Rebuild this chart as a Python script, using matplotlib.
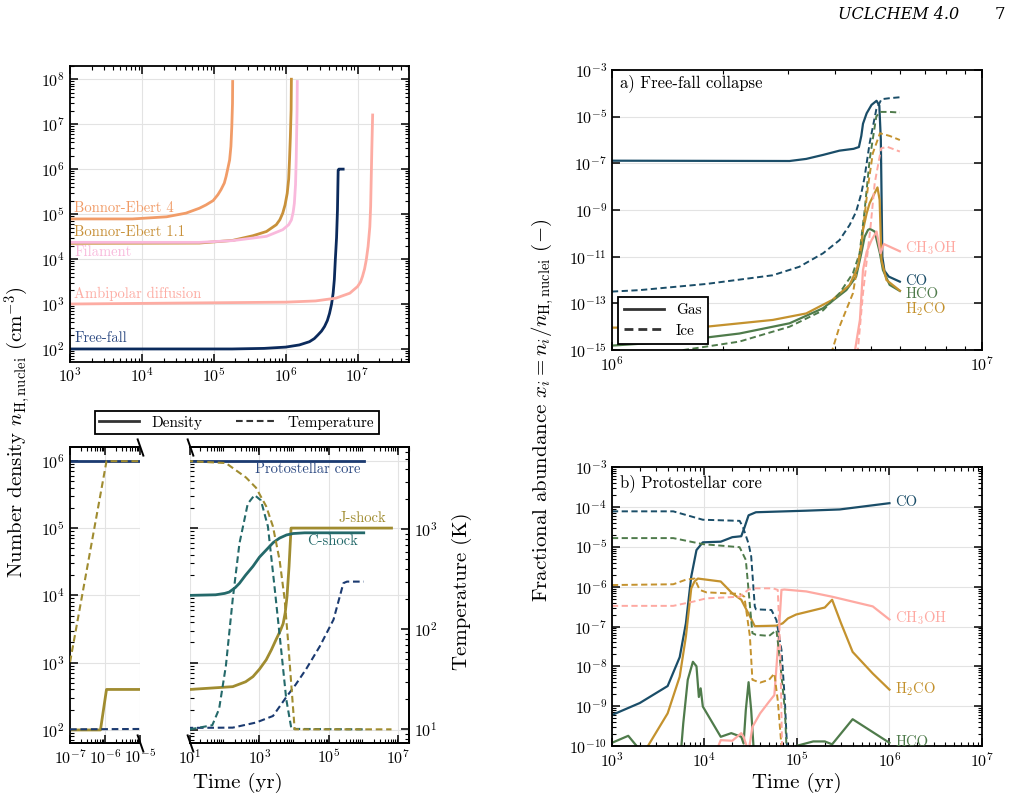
import matplotlib
matplotlib.use("Agg")
import matplotlib.pyplot as plt
from matplotlib.lines import Line2D
from matplotlib.ticker import LogLocator, NullFormatter, NullLocator

plt.rcParams['font.family'] = 'cmr10'
plt.rcParams['mathtext.fontset'] = 'cm'
plt.rcParams['axes.formatter.use_mathtext'] = True
plt.rcParams['axes.linewidth'] = 1.3
plt.rcParams['xtick.direction'] = 'in'
plt.rcParams['ytick.direction'] = 'in'
plt.rcParams['xtick.labelsize'] = 11.5
plt.rcParams['ytick.labelsize'] = 11.5

# ---- density profiles (top left)
ff_t = [1e3, 1.8e5, 5e5, 1.0e6, 1.55e6, 2.14e6, 2.5e6, 2.8e6, 3.15e6, 3.47e6, 3.8e6, 4.07e6, 4.35e6, 4.57e6, 4.75e6, 4.9e6, 5.1e6, 5.25e6, 5.37e6, 5.5e6, 6.3e6]
ff_n = [100, 100, 103, 110, 123, 145, 170, 204, 250, 316, 430, 617, 1000, 1740, 3500, 9550, 3e4, 1.23e5, 9.5e5, 1e6, 1e6]
ad_t = [1e3, 1e6, 2.6e6, 5.0e6, 7.8e6, 1.0e7, 1.1e7, 1.17e7, 1.25e7, 1.32e7, 1.4e7, 1.48e7, 1.52e7, 1.55e7, 1.58e7, 1.62e7]
ad_n = [1e3, 1.1e3, 1.17e3, 1.35e3, 1.74e3, 2.45e3, 3.1e3, 4.1e3, 6e3, 9.5e3, 1.9e4, 5.2e4, 1.5e5, 6.8e5, 3e6, 1.6e7]
be4_t = [1e3, 7.4e3, 2.2e4, 4.1e4, 6.3e4, 7.8e4, 9.8e4, 1.14e5, 1.26e5, 1.4e5, 1.48e5, 1.57e5, 1.66e5, 1.73e5, 1.78e5, 1.82e5, 1.83e5]
be4_n = [7.8e4, 7.8e4, 8.7e4, 1.05e5, 1.35e5, 1.6e5, 2.0e5, 2.7e5, 3.5e5, 4.9e5, 6.8e5, 1.05e6, 1.6e6, 3.2e6, 8.9e6, 2.9e7, 8.9e7]
be11_t = [1e3, 6.3e4, 1.83e5, 3.5e5, 5.4e5, 7.4e5, 8.3e5, 9.1e5, 9.8e5, 1.05e6, 1.1e6, 1.13e6, 1.16e6, 1.19e6, 1.2e6]
be11_n = [2.24e4, 2.27e4, 2.6e4, 3.3e4, 4.1e4, 5.8e4, 7.5e4, 1.05e5, 1.6e5, 2.9e5, 6e5, 1.6e6, 5e6, 2.1e7, 1e8]
fil_t = [1e3, 6.3e4, 1.83e5, 5.4e5, 9.1e5, 1.1e6, 1.2e6, 1.27e6, 1.32e6, 1.37e6, 1.4e6, 1.42e6, 1.44e6, 1.45e6]
fil_n = [2.35e4, 2.35e4, 2.57e4, 3.2e4, 4.5e4, 5.8e4, 7.4e4, 1.1e5, 1.74e5, 4.5e5, 1.6e6, 6e6, 2.1e7, 8.9e7]

# ---- physical models (bottom left)
core_t = [1e-7, 1e6]
core_n = [1e6, 1e6]
core_Tt = [1e-7, 170, 800, 2450, 5900, 1.1e4, 2.2e4, 5.5e4, 1.35e5, 2.6e5, 3.3e5, 1e6]
core_T = [10, 10.4, 11.7, 13.6, 21, 28, 40, 68, 125, 290, 300, 300]
j_t = [1e-7, 7.4e-7, 1.1e-6, 10, 170, 400, 650, 1000, 1560, 2200, 3000, 4000, 4800, 5500, 6200, 7100, 8100, 6.3e6]
j_n = [100, 100, 400, 400, 440, 520, 620, 800, 1100, 1550, 2200, 3000, 3800, 5500, 9600, 2.7e4, 1e5, 1e5]
j_Tt = [1e-7, 1.1e-6, 10, 108, 410, 800, 1560, 2440, 3800, 5300, 6600, 8300, 1.03e4, 6.3e6]
j_T = [47, 4800, 4800, 4600, 3300, 2600, 1700, 1070, 490, 200, 79, 27, 10, 10]
c_t = [10, 55, 100, 135, 200, 265, 400, 650, 1000, 1550, 2500, 3800, 6000, 9300, 2e4, 1e6]
c_n = [1e4, 1.02e4, 1.07e4, 1.12e4, 1.3e4, 1.51e4, 2e4, 2.7e4, 3.7e4, 4.7e4, 6.1e4, 7.1e4, 7.9e4, 8.3e4, 8.5e4, 8.5e4]
c_Tt = [10, 44, 69, 108, 170, 265, 460, 720, 1100, 1750, 2700, 4200, 5900, 8300, 1e6]
c_T = [10, 11, 16, 43, 200, 720, 1800, 2200, 1950, 1070, 270, 63, 20, 10.1, 10]

# ---- a) free-fall collapse abundances
a_co_t = [1e6, 3.02e6, 3.35e6, 3.72e6, 4.12e6, 4.5e6, 4.65e6, 4.72e6, 4.77e6, 4.88e6, 5.03e6, 5.19e6, 5.28e6, 5.33e6, 5.38e6, 5.45e6, 5.6e6, 6e6]
a_co = [1.3e-7, 1.26e-7, 1.55e-7, 2.3e-7, 3.5e-7, 4.2e-7, 5e-7, 1.5e-6, 5e-6, 1.4e-5, 3.2e-5, 4.8e-5, 3e-5, 1e-6, 1e-11, 2.5e-12, 1.4e-12, 8.5e-13]
a_coi_t = [1e6, 1.19e6, 1.8e6, 2.72e6, 3.21e6, 3.72e6, 4.12e6, 4.39e6, 4.57e6, 4.72e6, 4.82e6, 4.97e6, 5.18e6, 5.35e6, 5.63e6, 6e6]
a_coi = [3.2e-13, 3.7e-13, 6.8e-13, 1.6e-12, 3.7e-12, 1.4e-11, 5.1e-11, 2.3e-10, 8.5e-10, 5.1e-9, 2.7e-8, 7.2e-7, 2e-5, 5.6e-5, 6.2e-5, 6.8e-5]
a_hco_t = [1e6, 1.46e6, 2.21e6, 3.02e6, 3.72e6, 4.3e6, 4.57e6, 4.72e6, 4.82e6, 4.92e6, 4.98e6, 5.13e6, 5.3e6, 5.4e6, 5.63e6, 6e6]
a_hco = [1.55e-15, 2.3e-15, 5.1e-15, 1.4e-14, 6.2e-14, 3.7e-13, 1.4e-12, 1.4e-11, 7.2e-11, 1.4e-10, 1.55e-10, 1.2e-10, 1.4e-11, 2.7e-12, 6.2e-13, 3.4e-13]
a_hcoi_t = [1.3e6, 1.56e6, 2.21e6, 3.02e6, 3.72e6, 4.12e6, 4.48e6, 4.67e6, 4.82e6, 4.97e6, 5.18e6, 5.3e6, 5.63e6, 6e6]
a_hcoi = [6e-16, 1e-15, 2.3e-15, 1e-14, 5e-14, 2.7e-13, 1.95e-12, 1.4e-11, 1e-9, 1.4e-7, 1e-5, 1.6e-5, 1.6e-5, 1.5e-5]
a_h2co_t = [1e6, 1.8e6, 2.72e6, 3.35e6, 3.94e6, 4.39e6, 4.62e6, 4.72e6, 4.77e6, 4.88e6, 4.97e6, 5.22e6, 5.29e6, 5.35e6, 5.52e6, 6e6]
a_h2co = [9.1e-15, 1e-14, 1.95e-14, 3.7e-14, 1.4e-13, 6.2e-13, 3.7e-12, 2.7e-11, 1.4e-10, 7.2e-10, 1.95e-9, 9.3e-9, 2.7e-9, 7.2e-12, 1e-12, 3.5e-13]
a_h2coi_t = [3.8e6, 3.94e6, 4.12e6, 4.48e6, 4.72e6, 4.92e6, 5.07e6, 5.3e6, 5.63e6, 6e6]
a_h2coi = [3e-16, 1e-15, 1e-14, 2.7e-13, 3.7e-11, 1e-8, 2.7e-7, 1.95e-6, 1.5e-6, 1e-6]
a_ch3oh_t = [4.5e6, 4.54e6, 4.68e6, 4.77e6, 4.88e6, 5.03e6, 5.19e6, 5.32e6, 5.43e6, 6e6]
a_ch3oh = [1e-16, 1e-15, 2e-14, 2.7e-12, 1.6e-11, 5.1e-11, 1.2e-10, 1.4e-11, 3.5e-11, 1.7e-11]
a_ch3ohi_t = [4.58e6, 4.62e6, 4.77e6, 5.0e6, 5.13e6, 5.34e6, 5.55e6, 6e6]
a_ch3ohi = [1e-16, 1e-15, 2.7e-13, 1.95e-10, 1.4e-8, 4.4e-7, 5.1e-7, 3.2e-7]

# ---- b) protostellar core abundances
b_co_t = [1e3, 2e3, 4e3, 5.4e3, 6.3e3, 7.2e3, 8.2e3, 9.6e3, 1.5e4, 2e4, 2.5e4, 2.7e4, 3e4, 3.6e4, 1.26e5, 2.9e5, 1e6]
b_co = [6e-10, 1.2e-9, 3.2e-9, 1.7e-8, 1.2e-7, 1.8e-6, 8.3e-6, 1.3e-5, 1.35e-5, 1.75e-5, 1.85e-5, 3e-5, 6.2e-5, 7.4e-5, 8.1e-5, 8.7e-5, 1.25e-4]
b_coi_t = [1e3, 4.6e3, 9.6e3, 2.4e4, 2.6e4, 3e4, 3.2e4, 3.5e4, 3.6e4, 5.3e4, 6e4, 6.8e4, 7.4e4, 7.8e4, 8e4]
b_coi = [7.8e-5, 7.8e-5, 4.8e-5, 4.5e-5, 3.2e-5, 1.2e-5, 5.8e-6, 3.2e-7, 2.7e-7, 2.6e-7, 1.45e-7, 2.6e-8, 1.4e-9, 1e-10, 1e-11]
b_hco_t = [1e3, 1.5e3, 2e3, 2.6e3, 5.4e3, 5.9e3, 6.6e3, 7.5e3, 8.2e3, 8.7e3, 9.1e3, 9.6e3, 1.5e4, 1.95e4, 2.5e4, 2.65e4, 2.8e4, 3e4, 3.2e4, 3.5e4, 9e4, 9.8e4, 1.5e5, 2e5, 2.4e5, 4e5, 1e6]
b_hco = [1.2e-10, 1.8e-10, 8e-11, 3e-11, 3e-11, 3.7e-10, 4.6e-9, 1.3e-8, 1e-8, 1.7e-9, 2.8e-9, 9.8e-10, 1.7e-10, 2.1e-10, 1.7e-10, 1.15e-10, 8e-10, 4e-9, 8e-10, 3e-11, 3e-11, 1e-10, 1.3e-10, 1.3e-10, 1.1e-10, 4.7e-10, 1.2e-10]
b_hcoi_t = [1e3, 4.6e3, 9.6e3, 2.4e4, 2.8e4, 3.3e4, 3.6e4, 5e4, 6e4, 6.5e4, 7.4e4, 7.7e4, 8e4]
b_hcoi = [1.66e-5, 1.66e-5, 1.17e-5, 9.8e-6, 4.7e-6, 6.8e-8, 6.2e-8, 5.8e-8, 8.1e-8, 1.7e-8, 8e-10, 1e-10, 1e-11]
b_h2co_t = [2.2e3, 2.45e3, 4e3, 5.4e3, 6.3e3, 7.2e3, 7.8e3, 8.5e3, 1.5e4, 2e4, 2.5e4, 3.1e4, 3.5e4, 6e4, 7e4, 8e4, 9.8e4, 2e5, 2.4e5, 3e5, 4e5, 6.6e5, 1e6]
b_h2co = [1e-11, 1e-10, 6.6e-10, 5.5e-9, 5.6e-8, 9.1e-7, 1.35e-6, 1.6e-6, 1.35e-6, 6.8e-7, 4.7e-7, 1.8e-7, 1.02e-7, 1.05e-7, 1.2e-7, 1.6e-7, 2e-7, 3e-7, 4.7e-7, 1.2e-7, 2.3e-8, 6.6e-9, 2.6e-9]
b_h2coi_t = [1e3, 4.6e3, 6.3e3, 7.8e3, 8.9e3, 1.05e4, 2.4e4, 2.7e4, 3.1e4, 3.3e4, 4e4, 5e4, 5.7e4, 6.2e4, 6.8e4, 7.2e4]
b_h2coi = [1.1e-6, 1.15e-6, 1.5e-6, 1.6e-6, 8.3e-7, 7.2e-7, 6.6e-7, 5.6e-7, 5.6e-8, 4.6e-9, 3.9e-9, 4.6e-9, 6.6e-9, 1.4e-9, 1e-10, 1e-11]
b_ch3oh_t = [1.25e4, 1.5e4, 2e4, 2.5e4, 2.65e4, 3e4, 3.3e4, 4e4, 5e4, 5.7e4, 6.2e4, 6.8e4, 7.3e4, 1.26e5, 2.4e5, 6.6e5, 1e6]
b_ch3oh = [5e-11, 1.4e-10, 1.35e-10, 2.1e-10, 1.7e-10, 7e-11, 3e-10, 6.6e-10, 1.3e-9, 1.9e-9, 2.6e-8, 8.3e-7, 8.5e-7, 7.6e-7, 5.6e-7, 3.2e-7, 1.5e-7]
b_ch3ohi_t = [1e3, 4.6e3, 7.5e3, 1.05e4, 2.4e4, 3e4, 3.6e4, 5.5e4, 6.2e4, 6.6e4, 6.9e4, 7.2e4]
b_ch3ohi = [3.3e-7, 3.3e-7, 4.2e-7, 5.1e-7, 5.6e-7, 8.5e-7, 9.1e-7, 9.1e-7, 8.3e-7, 2.6e-8, 1e-10, 1e-11]

c_ff, c_ad, c_be4, c_be11, c_fil = '#0b2a5c', '#fdaca3', '#f19c68', '#c8913a', '#f9b9dc'
c_core, c_j, c_c = '#1b3a70', '#a08c30', '#24696a'
c_co, c_hco, c_h2co, c_ch3oh = '#1a4d68', '#4f7b4b', '#c4922e', '#fea9a2'
gridc = '#e3e3e3'
dash = (3.2, 1.8)

fig = plt.figure(figsize=(10.12, 8.01), dpi=100)


def style(ax, top=True, right=True):
    ax.tick_params(which='both', top=top, right=right)
    ax.tick_params(which='major', length=6, width=1.1)
    ax.tick_params(which='minor', length=3, width=0.8)
    ax.grid(True, which='major', color=gridc, lw=0.8)
    ax.set_axisbelow(True)


# ---------------- top left
ax1 = fig.add_axes([0.0692, 0.5484, 0.335, 0.3696])
ax1.set_xscale('log')
ax1.set_yscale('log')
ax1.plot(ff_t, ff_n, color=c_ff, lw=2)
ax1.plot(ad_t, ad_n, color=c_ad, lw=2)
ax1.plot(be4_t, be4_n, color=c_be4, lw=2)
ax1.plot(be11_t, be11_n, color=c_be11, lw=2)
ax1.plot(fil_t, fil_n, color=c_fil, lw=2)
ax1.set_xlim(1e3, 5.2e7)
ax1.set_ylim(52, 2e8)
ax1.yaxis.set_major_locator(LogLocator(numticks=20))
ax1.yaxis.set_minor_locator(LogLocator(subs=range(2, 10), numticks=20))
ax1.yaxis.set_minor_formatter(NullFormatter())
style(ax1)
lab_kw = dict(fontsize=10.5, va='center', ha='left')
ax1.text(1.15e3, 1.35e5, 'Bonnor-Ebert 4', color=c_be4, **lab_kw)
ax1.text(1.15e3, 3.9e4, 'Bonnor-Ebert 1.1', color=c_be11, **lab_kw)
ax1.text(1.15e3, 1.46e4, 'Filament', color=c_fil, **lab_kw)
ax1.text(1.15e3, 1.66e3, 'Ambipolar diffusion', color=c_ad, **lab_kw)
ax1.text(1.15e3, 174, 'Free-fall', color='#2d4a82', **lab_kw)

# ---------------- bottom left (broken axis)
axL = fig.add_axes([0.0692, 0.0724, 0.0692, 0.3695])
axR = fig.add_axes([0.1877, 0.0724, 0.2164, 0.3695])
for ax in (axL, axR):
    ax.set_xscale('log')
    ax.set_yscale('log')
    ax.plot(core_t, core_n, color=c_core, lw=2)
    ax.plot(j_t, j_n, color=c_j, lw=2)
    ax.plot(c_t, c_n, color=c_c, lw=2)
    ax.set_ylim(64, 1.6e6)
    ax.yaxis.set_major_locator(LogLocator(numticks=20))
    ax.yaxis.set_minor_locator(LogLocator(subs=range(2, 10), numticks=20))
    ax.yaxis.set_minor_formatter(NullFormatter())
axL.set_xlim(1e-7, 1e-5)
axR.set_xlim(10, 2e7)
axR.set_xticks([1e1, 1e3, 1e5, 1e7])
axR.xaxis.set_minor_locator(LogLocator(subs=range(2, 10), numticks=20))
axR.xaxis.set_minor_formatter(NullFormatter())
axL.set_xticks([1e-7, 1e-6, 1e-5])
axL.xaxis.set_minor_locator(LogLocator(subs=range(2, 10), numticks=20))
axL.xaxis.set_minor_formatter(NullFormatter())
style(axL, right=False)
style(axR)
axL.spines['right'].set_visible(False)
axR.spines['left'].set_visible(False)
axR.tick_params(which='both', left=False, right=False, labelleft=False)

for ax in (axL, axR):
    tw = ax.twinx()
    tw.set_yscale('log')
    tw.set_ylim(7.3, 6650)
    tw.plot(core_Tt, core_T, color=c_core, lw=1.5, ls='--', dashes=dash)
    tw.plot(c_Tt, c_T, color=c_c, lw=1.5, ls='--', dashes=dash)
    tw.plot(j_Tt, j_T, color=c_j, lw=1.5, ls='--', dashes=dash)
    tw.spines['left'].set_visible(False)
    if ax is axL:
        tw.spines['right'].set_visible(False)
        tw.tick_params(which='both', right=False, labelright=False)
    else:
        tw.tick_params(which='both', direction='in')
        tw.tick_params(which='major', length=6, width=1.1)
        tw.tick_params(which='minor', length=3, width=0.8)
        tw.yaxis.set_minor_formatter(NullFormatter())

mk = dict(marker=[(-0.35, 1), (0.35, -1)], markersize=13, linestyle='none',
          color='k', mec='k', mew=1.4, clip_on=False)
axL.plot([1, 1], [0, 1], transform=axL.transAxes, **mk)
axR.plot([0, 0], [0, 1], transform=axR.transAxes, **mk)

axR.text(8e5, 7.6e5, 'Protostellar core', color='#2d4a82', fontsize=10.5, ha='right', va='center')
axR.text(4.5e6, 1.4e5, 'J-shock', color=c_j, fontsize=10.5, ha='right', va='center')
axR.text(7e5, 6.3e4, 'C-shock', color=c_c, fontsize=10.5, ha='right', va='center')

fig.legend(handles=[Line2D([], [], color='#333333', lw=2),
                    Line2D([], [], color='#333333', lw=1.5, ls='--', dashes=dash)],
           labels=['Density', 'Temperature'], ncol=2, loc='center',
           bbox_to_anchor=(0.234, 0.4725), fancybox=False, edgecolor='k',
           framealpha=1, fontsize=11, handlelength=2.6, columnspacing=2.2,
           borderpad=0.3).get_frame().set_linewidth(1.3)

# ---------------- a) free-fall collapse
axa = fig.add_axes([0.6047, 0.563, 0.3656, 0.3496])
axa.set_xscale('log')
axa.set_yscale('log')
axa.plot(a_co_t, a_co, color=c_co, lw=1.6)
axa.plot(a_hco_t, a_hco, color=c_hco, lw=1.6)
axa.plot(a_h2co_t, a_h2co, color=c_h2co, lw=1.6)
axa.plot(a_ch3oh_t, a_ch3oh, color=c_ch3oh, lw=1.6)
axa.plot(a_coi_t, a_coi, color=c_co, lw=1.4, ls='--', dashes=dash)
axa.plot(a_hcoi_t, a_hcoi, color=c_hco, lw=1.4, ls='--', dashes=dash)
axa.plot(a_h2coi_t, a_h2coi, color=c_h2co, lw=1.4, ls='--', dashes=dash)
axa.plot(a_ch3ohi_t, a_ch3ohi, color=c_ch3oh, lw=1.4, ls='--', dashes=dash)
axa.set_xlim(1e6, 1e7)
axa.set_ylim(1e-15, 1e-3)
axa.set_yticks([1e-15, 1e-13, 1e-11, 1e-9, 1e-7, 1e-5, 1e-3])
axa.yaxis.set_minor_locator(NullLocator())
axa.xaxis.set_minor_formatter(NullFormatter())
style(axa)
axa.text(0.022, 0.952, 'a) Free-fall collapse', transform=axa.transAxes, fontsize=12, va='center')
sp_kw = dict(fontsize=10.5, ha='left', va='center')
axa.text(6.2e6, 2.3e-11, 'CH$_3$OH', color=c_ch3oh, **sp_kw)
axa.text(6.2e6, 9.1e-13, 'CO', color=c_co, **sp_kw)
axa.text(6.2e6, 2.5e-13, 'HCO', color=c_hco, **sp_kw)
axa.text(6.2e6, 5.5e-14, 'H$_2$CO', color=c_h2co, **sp_kw)
lg = axa.legend(handles=[Line2D([], [], color='#333333', lw=2),
                         Line2D([], [], color='#333333', lw=2, ls='--', dashes=dash)],
                labels=['Gas', 'Ice'], loc='lower left', fancybox=False, edgecolor='k',
                framealpha=1, fontsize=11, handlelength=2.6, borderaxespad=0.4,
                borderpad=0.4, labelspacing=0.45)
lg.get_frame().set_linewidth(1.3)

# ---------------- b) protostellar core
axb = fig.add_axes([0.6047, 0.0687, 0.3656, 0.348])
axb.set_xscale('log')
axb.set_yscale('log')
axb.plot(b_co_t, b_co, color=c_co, lw=1.6)
axb.plot(b_hco_t, b_hco, color=c_hco, lw=1.6)
axb.plot(b_h2co_t, b_h2co, color=c_h2co, lw=1.6)
axb.plot(b_ch3oh_t, b_ch3oh, color=c_ch3oh, lw=1.6)
axb.plot(b_coi_t, b_coi, color=c_co, lw=1.4, ls='--', dashes=dash)
axb.plot(b_hcoi_t, b_hcoi, color=c_hco, lw=1.4, ls='--', dashes=dash)
axb.plot(b_h2coi_t, b_h2coi, color=c_h2co, lw=1.4, ls='--', dashes=dash)
axb.plot(b_ch3ohi_t, b_ch3ohi, color=c_ch3oh, lw=1.4, ls='--', dashes=dash)
axb.set_xlim(1e3, 1e7)
axb.set_ylim(1e-10, 1e-3)
axb.yaxis.set_major_locator(LogLocator(numticks=20))
axb.yaxis.set_minor_locator(LogLocator(subs=range(2, 10), numticks=20))
axb.yaxis.set_minor_formatter(NullFormatter())
style(axb)
axb.text(0.022, 0.943, 'b) Protostellar core', transform=axb.transAxes, fontsize=12, va='center')
axb.text(1.15e6, 1.35e-4, 'CO', color=c_co, **sp_kw)
axb.text(1.15e6, 1.6e-7, 'CH$_3$OH', color=c_ch3oh, **sp_kw)
axb.text(1.15e6, 2.7e-9, 'H$_2$CO', color=c_h2co, **sp_kw)
axb.text(1.15e6, 1.25e-10, 'HCO', color=c_hco, **sp_kw)

# ---------------- labels
fig.text(0.0178, 0.4607, 'Number density $n_{\\mathrm{H,nuclei}}$ (cm$^{-3}$)',
         rotation=90, fontsize=15, ha='center', va='center')
fig.text(0.4565, 0.262, 'Temperature (K)', rotation=90, fontsize=15, ha='center', va='center')
fig.text(0.235, 0.0225, 'Time (yr)', fontsize=15, ha='center', va='center')
fig.text(0.7875, 0.0225, 'Time (yr)', fontsize=15, ha='center', va='center')
fig.text(0.5366, 0.488, 'Fractional abundance $x_i = n_i/n_{\\mathrm{H,nuclei}}$ $(-)$',
         rotation=90, fontsize=15, ha='center', va='center')
fig.text(0.828, 0.982, 'UCLCHEM 4.0', family='DejaVu Serif', style='italic',
         fontsize=11.5, ha='left', va='center')
fig.text(0.988, 0.982, '7', family='DejaVu Serif', fontsize=12, ha='center', va='center')

fig.savefig('out.png', dpi=100)
